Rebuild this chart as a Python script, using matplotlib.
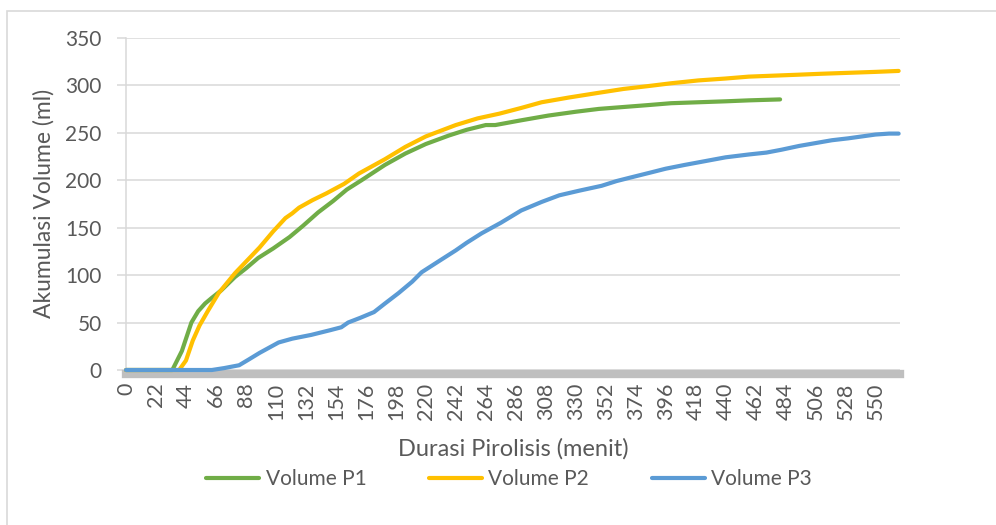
import matplotlib
matplotlib.use('Agg')
import matplotlib.pyplot as plt
from matplotlib.patches import Rectangle

plt.rcParams['font.family'] = ['Lato', 'DejaVu Sans']

# durasi (menit) dan volume kumulatif (ml)
menit_p1 = [0, 34, 41, 48, 53, 58, 63, 70, 80, 88, 97, 108, 120, 130, 141, 152, 162, 173,
            190, 205, 220, 237, 250, 264, 271, 290, 310, 330, 347, 365, 383, 400, 420, 440,
            457, 480]
volume_p1 = [0, 0, 20, 50, 62, 70, 76, 84, 98, 107, 118, 128, 140, 152, 166, 178, 190, 200,
             216, 228, 238, 247, 253, 258, 258, 263, 268, 272, 275, 277, 279, 281, 282, 283,
             284, 285]

menit_p2 = [0, 39, 44, 49, 54, 60, 68, 80, 90, 98, 108, 117, 122, 127, 137, 147, 160, 171,
            190, 205, 220, 242, 258, 274, 290, 305, 325, 347, 365, 383, 400, 420, 440, 457,
            475, 493, 510, 530, 550, 567]
volume_p2 = [0, 0, 10, 31, 47, 62, 81, 102, 117, 129, 146, 160, 165, 171, 179, 186, 196, 207,
             222, 235, 246, 258, 265, 270, 276, 282, 287, 292, 296, 299, 302, 305, 307, 309,
             310, 311, 312, 313, 314, 315]

menit_p3 = [0, 63, 72, 83, 90, 98, 112, 122, 136, 150, 158, 163, 172, 182, 190, 200, 210,
            217, 230, 242, 250, 261, 275, 290, 305, 318, 333, 349, 360, 371, 385, 396, 410,
            425, 440, 457, 470, 481, 494, 506, 518, 530, 540, 550, 560, 567]
volume_p3 = [0, 0, 2, 5, 11, 18, 29, 33, 37, 42, 45, 50, 55, 61, 70, 81, 93, 103, 115, 126,
             134, 144, 155, 168, 177, 184, 189, 194, 199, 203, 208, 212, 216, 220, 224, 227,
             229, 232, 236, 239, 242, 244, 246, 248, 249, 249]

label_seri = ['Volume P1', 'Volume P2', 'Volume P3']
warna = ['#70ad47', '#ffc000', '#5b9bd5']
xticks = list(range(0, 551, 22))
yticks = list(range(0, 351, 50))

teks = '#595959'
abu = '#d9d9d9'

fig = plt.figure(figsize=(9.96, 5.25), dpi=100)
fig.patches.append(Rectangle((7 / 996, -0.1), 1.2, 1.1 - 11 / 525,
                             transform=fig.transFigure, fill=False,
                             edgecolor=abu, linewidth=1.2))

ax = fig.add_axes([126 / 996, 1 - 370 / 525, 774 / 996, 332.3 / 525])

seri = [(menit_p1, volume_p1), (menit_p2, volume_p2), (menit_p3, volume_p3)]
for i, (x, y) in enumerate(seri):
    ax.plot(x, y, color=warna[i], linewidth=3, label=label_seri[i],
            solid_capstyle='round', solid_joinstyle='round', zorder=3 + i, clip_on=False)

ax.set_xlim(0, 568)
ax.set_ylim(0, 350)
ax.set_xticks(xticks)
ax.set_yticks(yticks)
ax.set_xticklabels([str(v) for v in xticks])

ax.grid(axis='y', color=abu, linewidth=1.1)
ax.set_axisbelow(True)

for s in ['top', 'right']:
    ax.spines[s].set_visible(False)
ax.spines['left'].set_color(abu)
ax.spines['left'].set_linewidth(1.1)
ax.spines['bottom'].set_color('#bfbfbf')
ax.spines['bottom'].set_linewidth(6)
ax.spines['bottom'].set_position(('outward', 3))
ax.spines['bottom'].set_zorder(2)

ax.tick_params(axis='y', length=6.5, width=1.1, color=abu, pad=11,
               labelsize=15, labelcolor=teks)
ax.tick_params(axis='x', length=0, pad=6, labelsize=15.5, labelcolor=teks,
               labelrotation=90)

ax.set_xlabel('Durasi Pirolisis (menit)', fontsize=17, color=teks)
ax.xaxis.label.set_va('center')
ax.xaxis.set_label_coords(0.5, -0.238)
ax.set_ylabel('Akumulasi Volume (ml)', fontsize=16.5, color=teks)
ax.yaxis.label.set_va('center')
ax.yaxis.set_label_coords(-0.106, 0.5)

leg = fig.legend(loc='center', bbox_to_anchor=(509 / 996, 1 - 479 / 525), ncol=3,
                 frameon=False, fontsize=15, handlelength=2.55, handletextpad=0.3,
                 columnspacing=3.0, labelcolor=teks)
for h in leg.legend_handles:
    h.set_linewidth(3)

fig.savefig('out.png', dpi=100, facecolor='white')
